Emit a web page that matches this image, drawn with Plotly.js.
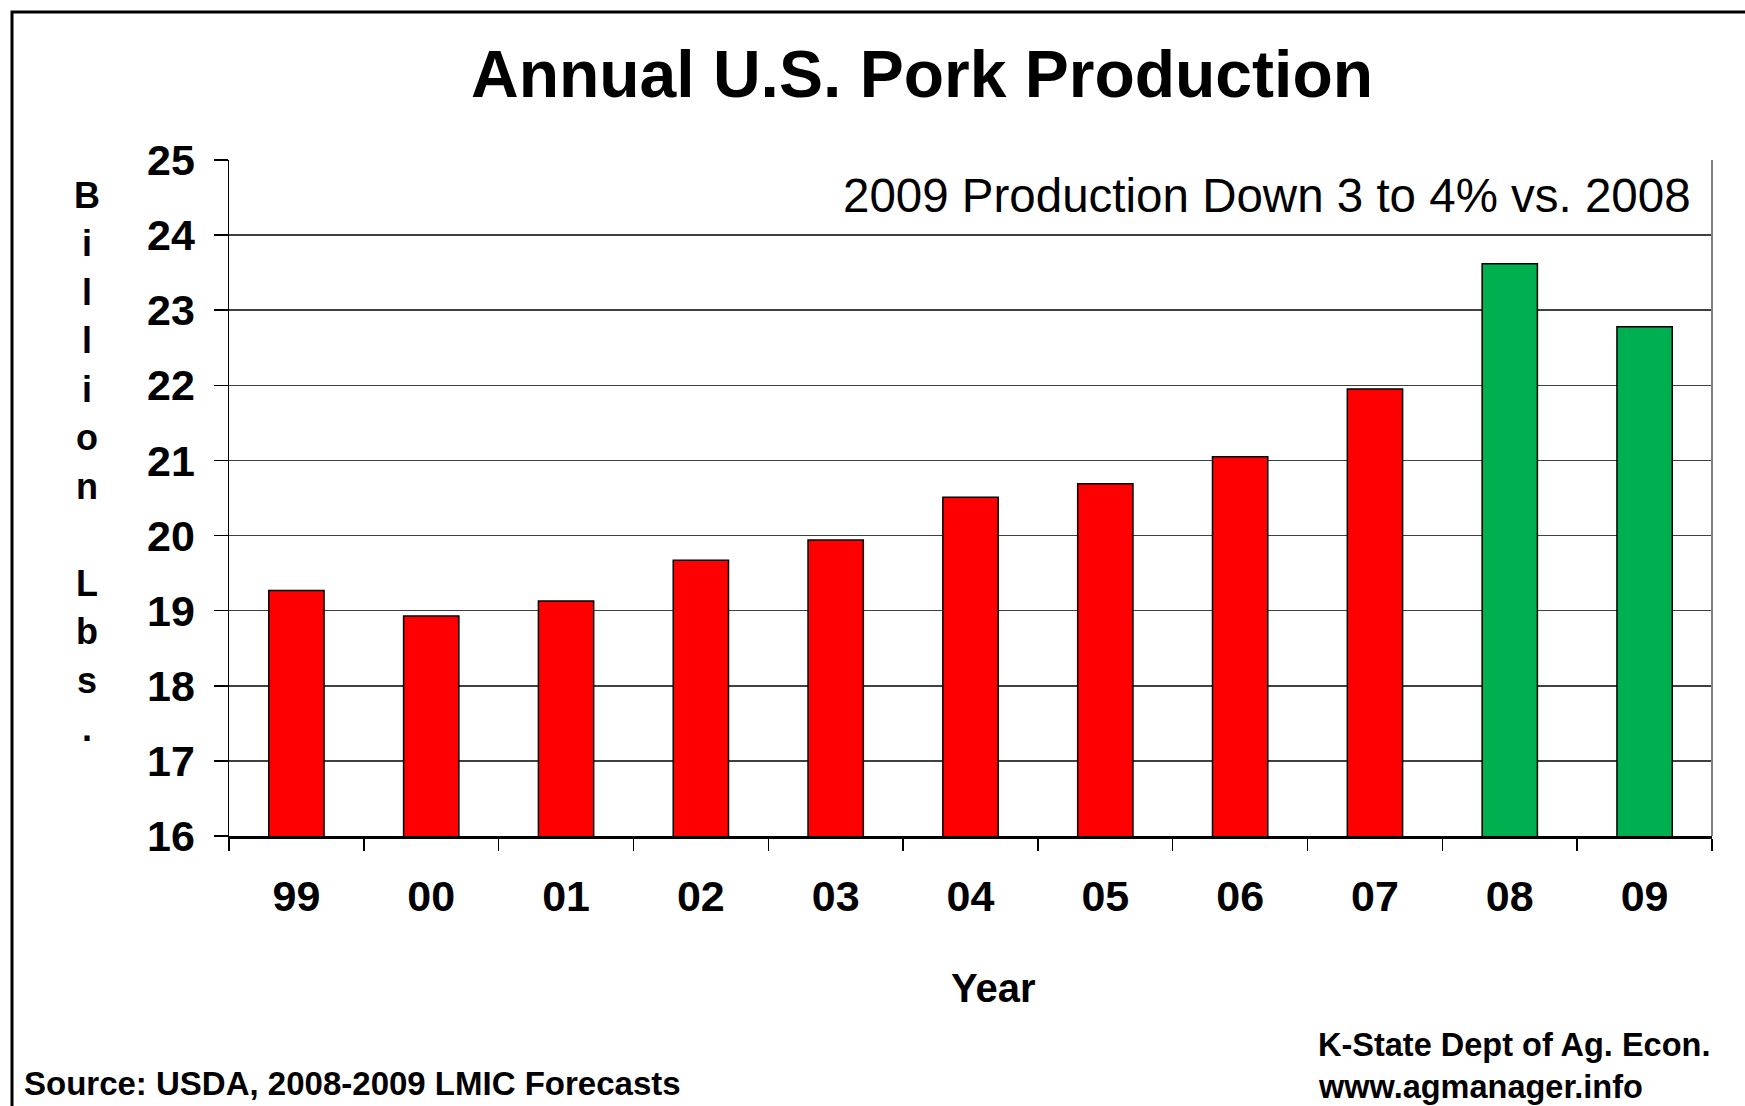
<!DOCTYPE html>
<html><head><meta charset="utf-8">
<script src="https://cdn.plot.ly/plotly-3.0.1.min.js"></script>
<style>html,body{margin:0;padding:0;background:#fff;}#chart{width:1745px;height:1106px;}</style>
</head><body><div id="chart"></div>
<script>
const years = ["99","00","01","02","03","04","05","06","07","08","09"];
const production = [19.27, 18.93, 19.13, 19.67, 19.94, 20.51, 20.69, 21.05, 21.95, 23.62, 22.78];
const barColors = ["#FF0000","#FF0000","#FF0000","#FF0000","#FF0000","#FF0000","#FF0000","#FF0000","#FF0000","#00B050","#00B050"];
const titleText = "Annual U.S. Pork Production";
const noteText = "2009 Production Down 3 to 4% vs. 2008";
const yTitleLetters = ["B","i","l","l","i","o","n","","L","b","s","."];
const xTitle = "Year";
const sourceText = "Source: USDA, 2008-2009 LMIC Forecasts";
const creditLines = ["K-State Dept of Ag. Econ.","www.agmanager.info"];

const W = 1745, H = 1106;
const L = 229, R = 1712, T = 160, B = 836;
const pw = R - L, ph = B - T;
const px = x => (x - L) / pw;
const py = y => (B - y) / ph;
const FONT = "Liberation Sans, Arial, sans-serif";

const annotations = [];
annotations.push({xref:"paper", yref:"paper", x: px(1693), y: py(195), xanchor:"right", yanchor:"middle",
  text: noteText, showarrow:false, font:{family:FONT, size:47.5, color:"#000"}});
yTitleLetters.forEach((ch, i) => {
  if (!ch) return;
  annotations.push({xref:"paper", yref:"paper", x: px(87), y: py(195 + i*48.5), xanchor:"center", yanchor:"middle",
    text: ch, showarrow:false, font:{family:FONT, size:36, color:"#000", weight:700}});
});
annotations.push({xref:"paper", yref:"paper", x: px(993), y: py(988), xanchor:"center", yanchor:"middle",
  text: xTitle, showarrow:false, font:{family:FONT, size:40, color:"#000", weight:700}});
annotations.push({xref:"paper", yref:"paper", x: px(22), y: py(1083), xanchor:"left", yanchor:"middle",
  text: sourceText, showarrow:false, font:{family:FONT, size:33, color:"#000", weight:700}});
creditLines.forEach((t, i) => {
  annotations.push({xref:"paper", yref:"paper", x: px(1316), y: py(1045 + i*42), xanchor:"left", yanchor:"middle",
    text: t, showarrow:false, font:{family:FONT, size:32.5, color:"#000", weight:700}});
});

const shapes = [
  {type:"rect", xref:"paper", yref:"paper", x0: px(12), x1: px(1780), y0: py(1140), y1: py(12),
   line:{color:"#000", width:3}, fillcolor:"rgba(0,0,0,0)", layer:"above"},
  {type:"line", xref:"paper", yref:"paper", x0:1, x1:1, y0:0, y1:1, line:{color:"#808080", width:2}}
];

const data = [{
  type:"bar", x: years, y: production,
  marker:{color: barColors, line:{color:"#000", width:1.5}},
  hoverinfo:"x+y"
}];

const layout = {
  width: W, height: H,
  margin:{l:L, r:W-R, t:T, b:H-B, pad:0},
  paper_bgcolor:"#fff", plot_bgcolor:"#fff",
  showlegend:false,
  bargap:0.59,
  title:{text: titleText, x: 922/W, xanchor:"center", xref:"container", y: 1 - 74/H, yanchor:"middle", yref:"container",
    font:{family:FONT, size:66, color:"#000", weight:700}},
  xaxis:{type:"category", showgrid:false, showline:true, linecolor:"#000", linewidth:2.5,
    ticks:"outside", tickson:"boundaries", ticklen:12, tickwidth:1.5, tickcolor:"#000",
    ticklabelstandoff:21,
    tickfont:{family:FONT, size:43, color:"#000", weight:700}, zeroline:false},
  yaxis:{range:[16,25], dtick:1, tick0:16, showgrid:true, gridcolor:"#404040", gridwidth:1.5,
    showline:true, linecolor:"#000", linewidth:1.5, ticks:"outside", ticklen:14, tickwidth:1.5, tickcolor:"#000",
    ticklabelstandoff:10, zeroline:false,
    tickfont:{family:FONT, size:43, color:"#000", weight:700}},
  annotations: annotations,
  shapes: shapes
};

Plotly.newPlot("chart", data, layout, {displayModeBar:false, staticPlot:true});
</script>
</body></html>
